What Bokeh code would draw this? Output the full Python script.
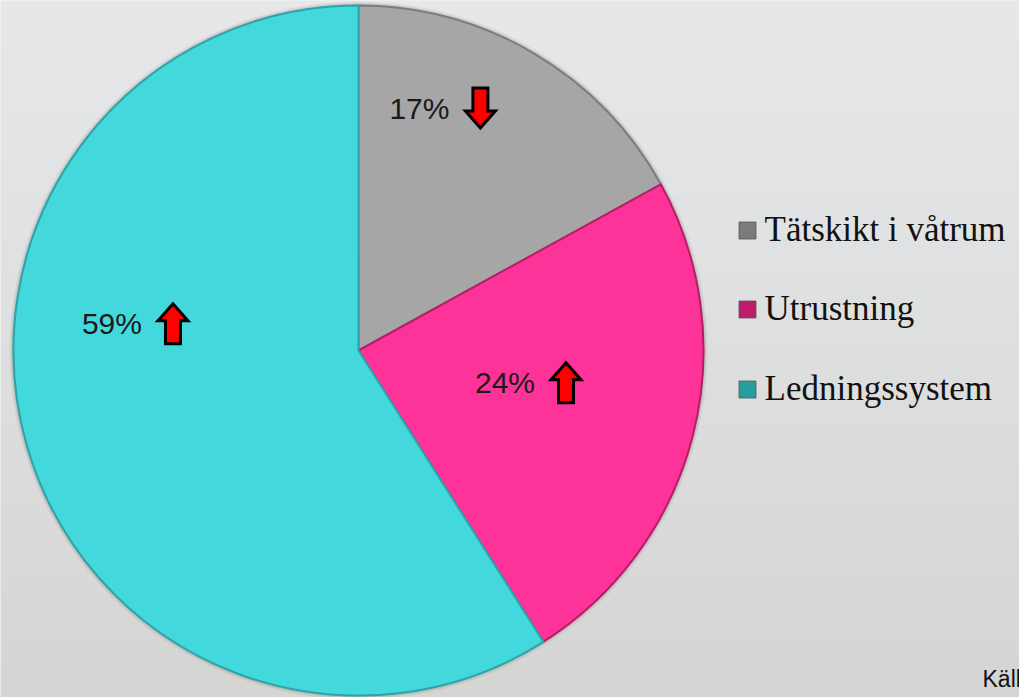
import numpy as np
from bokeh.plotting import figure
from bokeh.models import Range1d
from bokeh.core.properties import value
from bokeh.embed import file_html
from bokeh.resources import INLINE

# ---- data ----
categories = ["Tätskikt i våtrum", "Utrustning", "Ledningssystem"]
shares = [17, 24, 59]
trend = ["down", "up", "up"]
labels = ["17%", "24%", "59%"]
source_note = "Källa"

# ---- style / layout ----
W, H = 1019, 697
colors = ["#A6A6A6", "#FE3399", "#43D9DC"]
edge_colors = ["#7d7d7d", "#b81d66", "#2aa6a9"]
legend_colors = ["#7b7b7b", "#c01a6b", "#259ea2"]
cx, cy, R = 358, H - 350, 345
# label anchor (angle in degrees, radius) per slice
label_pos = [(75.9, 250), (-12.4, 150), (173.8, 248)]
arrow_dx = 61

p = figure(width=W, height=H, output_backend="svg", toolbar_location=None,
           x_range=Range1d(0, W), y_range=Range1d(0, H), min_border=0)
p.axis.visible = False
p.grid.visible = False
p.outline_line_color = None
p.background_fill_color = "#e4e5e7"
p.border_fill_color = "#e4e5e7"

# background vertical gradient
ny = 100
top = np.array([231, 232, 234], dtype=float)
bot = np.array([213, 214, 212], dtype=float)
img = np.zeros((ny, 1), dtype=np.uint32)
view = img.view(dtype=np.uint8).reshape((ny, 1, 4))
for i in range(ny):
    t = i / (ny - 1)  # row 0 = bottom
    c = bot * (1 - t) + top * t
    view[i, 0, 0] = int(c[0]); view[i, 0, 1] = int(c[1]); view[i, 0, 2] = int(c[2]); view[i, 0, 3] = 255
p.image_rgba(image=[img], x=0, y=0, dw=W, dh=H)

# soft shadow
for k, a in [(4, 0.08), (2.5, 0.12), (1.2, 0.2)]:
    p.circle(x=[cx], y=[cy], radius=R + k, fill_color="#555555", fill_alpha=a, line_color=None)

# wedges, clockwise from top
fr = np.array(shares, dtype=float) / sum(shares)
ends = np.pi / 2 - np.cumsum(fr) * 2 * np.pi
starts = np.concatenate([[np.pi / 2], ends[:-1]])
for s, e, c, ec in zip(starts, ends, colors, edge_colors):
    p.wedge(x=cx, y=cy, radius=R, start_angle=e, end_angle=s,
            fill_color=c, line_color=ec, line_width=2)

def arrow(xc, yc, direction):
    hw, sw, hh, L = 15, 7.5, 17, 40
    xs = [xc - sw, xc - sw, xc - hw, xc, xc + hw, xc + sw, xc + sw]
    ys = [-L / 2, L / 2 - hh, L / 2 - hh, L / 2, L / 2 - hh, L / 2 - hh, -L / 2]
    if direction == "down":
        ys = [-y for y in ys]
    ys = [yc + y for y in ys]
    return xs, ys

for (ang, r), lab, tr in zip(label_pos, labels, trend):
    a = np.radians(ang)
    lx, ly = cx + r * np.cos(a), cy + r * np.sin(a)
    p.text(x=[lx], y=[ly], text=[lab], text_font=value("Liberation Sans"),
           text_font_size="30px", text_align="center", text_baseline="middle",
           text_color="#1a1a1a")
    xs, ys = arrow(lx + arrow_dx, ly, tr)
    p.patch(xs, ys, fill_color="#ff0000", line_color="#000000", line_width=3, line_join="miter")

# legend
ly0 = [H - 230, H - 309, H - 389]
for cat, lc, yy in zip(categories, legend_colors, ly0):
    p.rect(x=[747], y=[yy], width=17, height=17, fill_color=lc, line_color="#555555", line_width=0.8)
    p.text(x=[764], y=[yy + 1], text=[cat], text_font=value("Liberation Serif"),
           text_font_size="35px", text_baseline="middle", text_color="#111111")

p.text(x=[982], y=[H - 678], text=[source_note], text_font=value("Liberation Sans"),
       text_font_size="23px", text_baseline="middle", text_color="#111111")

open("out.html", "w").write(file_html(p, INLINE))
